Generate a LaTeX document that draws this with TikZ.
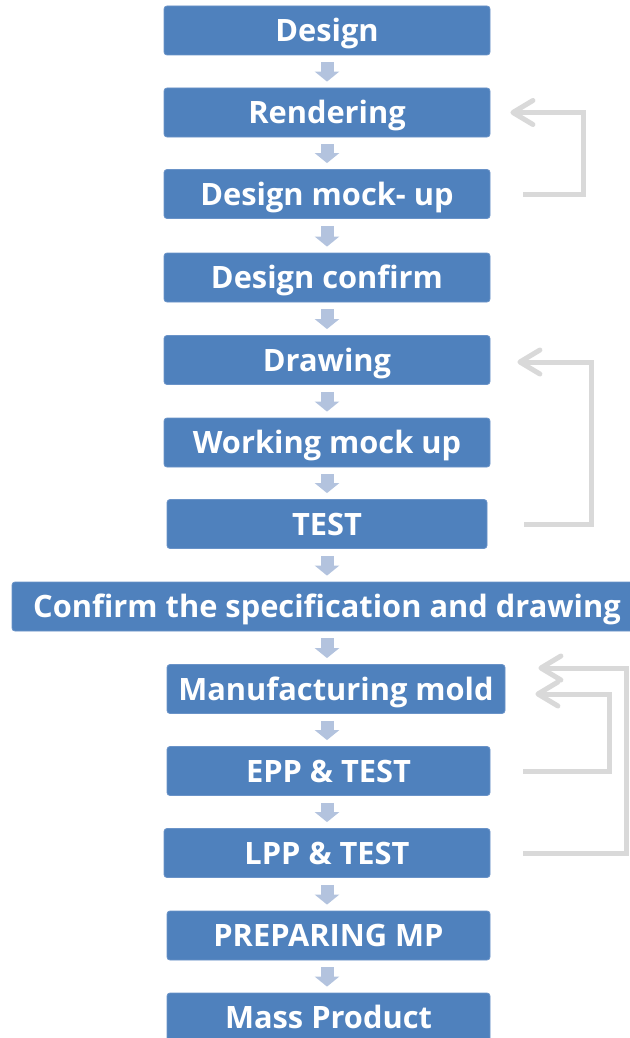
\documentclass[tikz,border=0pt]{standalone}
\usepackage{fontspec}
\setmainfont{Open Sans}[BoldFont={Open Sans Bold}]
\usetikzlibrary{arrows.meta}
\definecolor{boxblue}{HTML}{4F81BD}
\definecolor{boxedge}{HTML}{6A93C8}
\definecolor{dnblue}{HTML}{B3C3DE}
\definecolor{fbgray}{HTML}{D9D9D9}
\tikzset{
  stepbox/.style={rounded corners=3pt, fill=boxblue, draw=boxedge, line width=0.8pt,
    minimum height=49pt, inner sep=0pt, text=white, text height=22pt, text depth=0pt,
    font=\fontsize{30.8pt}{36pt}\selectfont\bfseries},
  dnarrow/.style={draw=dnblue, line width=13pt, -{Triangle[length=10pt,width=24pt]}},
  fbarrow/.style={draw=fbgray, line width=5pt, -{Straight Barb[length=20pt,width=24pt,round]}}
}
\begin{document}
\begin{tikzpicture}[x=1pt,y=-1pt]
\useasboundingbox (0,0) rectangle (629,1038);
\coordinate (ax) at (327,0);
\node[stepbox, minimum width=326pt] (b1) at (327,30.5) {Design};
\node[stepbox, minimum width=326pt] (b2) at (327,112.5) {Rendering};
\node[stepbox, minimum width=326pt] (b3) at (327,194) {Design mock- up};
\node[stepbox, minimum width=326pt] (b4) at (327,277.5) {Design confirm};
\node[stepbox, minimum width=326pt] (b5) at (327,360) {Drawing};
\node[stepbox, minimum width=326pt] (b6) at (327,442.5) {Working mock up};
\node[stepbox, minimum width=320pt] (b7) at (327,524) {TEST};
\node[stepbox, minimum width=630pt] (b8) at (327,606.5) {Confirm the specification and drawing};
\node[stepbox, minimum width=338pt] (b9) at (336,689) {Manufacturing mold};
\node[stepbox, minimum width=323pt] (b10) at (328.5,771) {EPP \& TEST};
\node[stepbox, minimum width=326pt] (b11) at (327,853) {LPP \& TEST};
\node[stepbox, minimum width=323pt] (b12) at (328.5,935.5) {PREPARING MP};
\node[stepbox, minimum width=323pt] (b13) at (328.5,1017.5) {Mass Product};
\foreach \a/\b in {b1/b2,b2/b3,b3/b4,b4/b5,b5/b6,b6/b7,b7/b8,b8/b9,b9/b10,b10/b11,b11/b12,b12/b13}
  \draw[dnarrow] ([yshift=-7pt]\a.south -| ax) -- ([yshift=6pt]\b.north -| ax);
\draw[fbarrow] ([xshift=33pt]b3.east) -- ++(60,0) |- ([xshift=20pt]b2.east);
\draw[fbarrow] ([xshift=37pt]b7.east) -- ++(67,0) |- ([xshift=27pt,yshift=-2pt]b5.east);
\draw[fbarrow] ([xshift=33pt]b10.east) -- ++(86,0) |- ([xshift=30pt,yshift=-5pt]b9.east);
\draw[fbarrow] ([xshift=33pt]b11.east) -- ++(103,0) |- ([xshift=33pt,yshift=21pt]b9.east);
\end{tikzpicture}
\end{document}
